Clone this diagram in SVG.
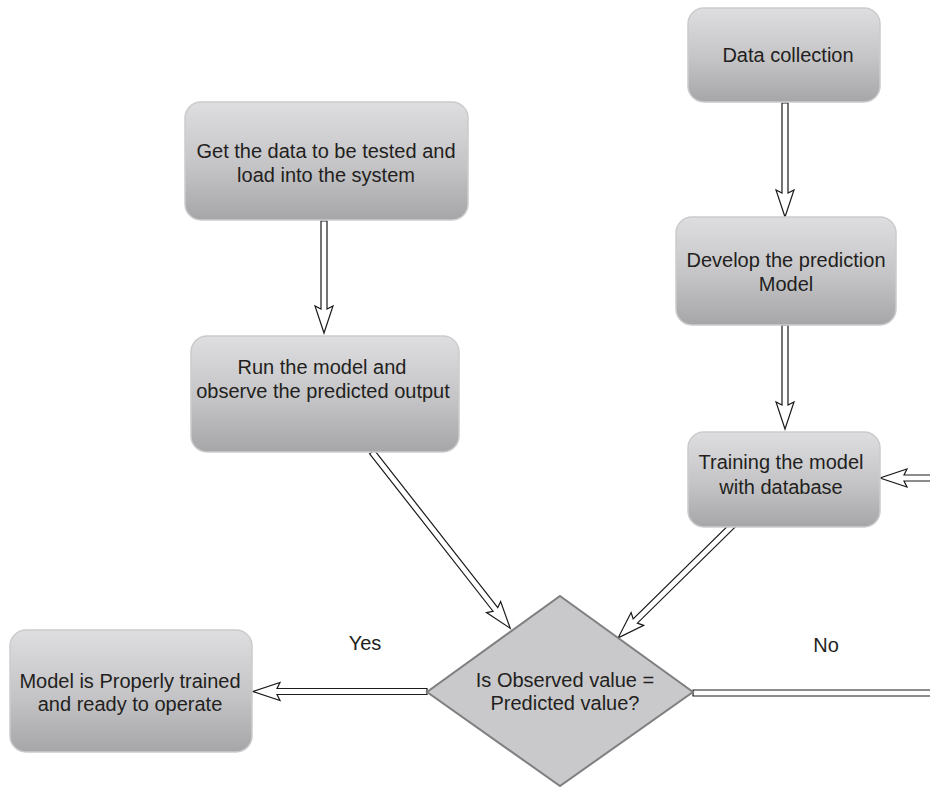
<svg xmlns="http://www.w3.org/2000/svg" width="930" height="787" viewBox="0 0 930 787">
  <defs>
    <linearGradient id="boxFill" x1="0" y1="0" x2="0" y2="1">
      <stop offset="0" stop-color="#dedee0"/>
      <stop offset="0.55" stop-color="#c4c4c6"/>
      <stop offset="1" stop-color="#a6a6a9"/>
    </linearGradient>
    <style>
      .box { fill: url(#boxFill); stroke: #cbcbcd; stroke-width: 1.5; }
      .dec { fill: #c9c9cb; stroke: #7f7f81; stroke-width: 2; }
      .lbl { font-family: "Liberation Sans", Arial, sans-serif; font-size: 20px; fill: #231f20; text-anchor: middle; }
      .arr { fill: #ffffff; stroke: #1a1a1a; stroke-width: 1.2; stroke-linejoin: miter; }
    </style>
  </defs>

  <rect width="930" height="787" fill="#ffffff"/>

  <!-- connectors: hollow double-line arrows, drawn along local +x then placed -->
  <g id="connectors">
    <!-- Get data -> Run the model -->
    <g transform="translate(324,221) rotate(90)">
      <polygon class="arr" points="0,-3 88,-3 85,-9 112,0 85,9 88,3 0,3"/>
    </g>
    <!-- Data collection -> Develop -->
    <g transform="translate(785,103) rotate(90)">
      <polygon class="arr" points="0,-3 90,-3 87,-9 114,0 87,9 90,3 0,3"/>
    </g>
    <!-- Develop -> Training -->
    <g transform="translate(785,325) rotate(90)">
      <polygon class="arr" points="0,-3 80,-3 77,-9 104,0 77,9 80,3 0,3"/>
    </g>
    <!-- Run the model -> decision -->
    <g transform="translate(372,452) rotate(51.9)">
      <polygon class="arr" points="0,-3 200,-3 197,-9 224,0 197,9 200,3 0,3"/>
    </g>
    <!-- Training -> decision -->
    <g transform="translate(733,525) rotate(135.5)">
      <polygon class="arr" points="0,-3 137,-3 134,-9 161,0 134,9 137,3 0,3"/>
    </g>
    <!-- Yes: decision -> trained model -->
    <g transform="translate(427,691.5) rotate(180)">
      <polygon class="arr" points="0,-3 150,-3 147,-9 174,0 147,9 150,3 0,3"/>
    </g>
    <!-- No: decision -> back to training (leaves the page) -->
    <g transform="translate(693,693)">
      <polygon class="arr" points="0,-3 245,-3 245,3 0,3"/>
    </g>
    <!-- No: return into training -->
    <g transform="translate(940,478) rotate(180)">
      <polygon class="arr" points="0,-3 36,-3 33,-9 60,0 33,9 36,3 0,3"/>
    </g>
  </g>

  <g id="get-data">
    <rect class="box" x="185" y="102" width="283" height="118" rx="16"/>
    <text class="lbl" x="326" y="157.5">Get the data to be tested and</text>
    <text class="lbl" x="326" y="181.5">load into the system</text>
  </g>

  <g id="run-model">
    <rect class="box" x="191" y="336" width="268" height="116" rx="16"/>
    <text class="lbl" x="322" y="374">Run the model and</text>
    <text class="lbl" x="323" y="398">observe the predicted output</text>
  </g>

  <g id="data-collection">
    <rect class="box" x="688" y="8" width="192" height="94" rx="16"/>
    <text class="lbl" x="788" y="62">Data collection</text>
  </g>

  <g id="develop-model">
    <rect class="box" x="676" y="217" width="220" height="108" rx="16"/>
    <text class="lbl" x="786" y="267">Develop the prediction</text>
    <text class="lbl" x="786" y="291">Model</text>
  </g>

  <g id="training">
    <rect class="box" x="688" y="432" width="192" height="95" rx="16"/>
    <text class="lbl" x="781" y="469">Training the model</text>
    <text class="lbl" x="781" y="494">with database</text>
  </g>

  <g id="trained-model">
    <rect class="box" x="10" y="630" width="242" height="122" rx="16"/>
    <text class="lbl" x="130" y="688">Model is Properly trained</text>
    <text class="lbl" x="130" y="711">and ready to operate</text>
  </g>

  <g id="decision">
    <polygon class="dec" points="560,596 693,692 560,786 427,692"/>
    <text class="lbl" x="565" y="687">Is Observed value =</text>
    <text class="lbl" x="565" y="710">Predicted value?</text>
  </g>

  <g id="branch-labels">
    <text class="lbl" x="365" y="650">Yes</text>
    <text class="lbl" x="826" y="652">No</text>
  </g>
</svg>
